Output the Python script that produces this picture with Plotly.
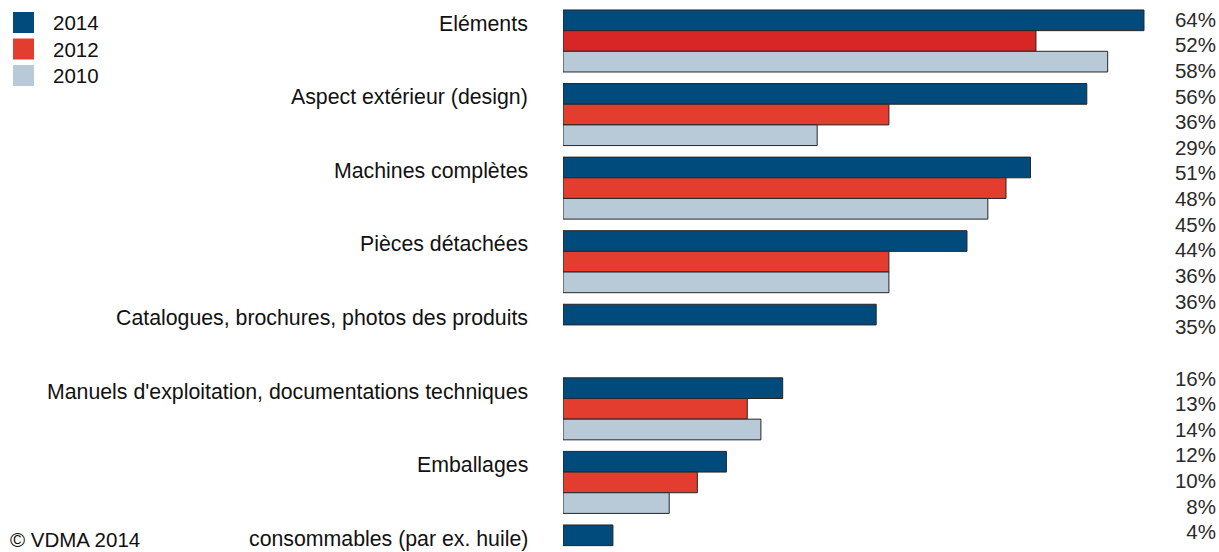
import plotly.graph_objects as go

# ---------------- data ----------------
categories = [
    "Eléments",
    "Aspect extérieur (design)",
    "Machines complètes",
    "Pièces détachées",
    "Catalogues, brochures, photos des produits",
    "Manuels d'exploitation, documentations techniques",
    "Emballages",
    "consommables (par ex. huile)",
]
series_names = ["2014", "2012", "2010"]
values_2014 = [64.0, 57.7, 51.5, 44.5, 34.5, 24.2, 18.0, 5.5]
values_2012 = [52.1, 35.9, 48.8, 35.9, None, 20.3, 14.8, None]
values_2010 = [60.0, 28.0, 46.8, 35.9, None, 21.8, 11.7, None]
pct_labels = ["64%", "52%", "58%", "56%", "36%", "29%", "51%", "48%", "45%",
              "44%", "36%", "36%", "35%", "", "16%", "13%", "14%", "12%",
              "10%", "8%", "4%"]
copyright_text = "© VDMA 2014"

# ---------------- styling / geometry ----------------
W, H = 1219, 552
X0_PX = 563            # left edge of bars
PX_PER_UNIT = 9.078
XMAX = (W - X0_PX) / PX_PER_UNIT
FONT = "Liberation Sans, Arial, Helvetica, sans-serif"
FS = 20.5
FS_CAT = 21.3
colors = ["#004A7C", "#E23D2E", "#B8C9D8"]
colors_2012 = ["#D82626"] + ["#E23D2E"] * (len(categories) - 1)
outline = dict(color="#262626", width=1)

fig = go.Figure()
all_values = [values_2014, values_2012, values_2010]
for name, vals, col in zip(series_names, all_values, [colors[0], colors_2012, colors[2]]):
    fig.add_trace(go.Bar(
        name=name, y=categories, x=vals, orientation="h",
        marker=dict(color=col, line=outline),
        showlegend=False, hoverinfo="skip",
    ))

# percent labels column on right
label_x = (1217 - X0_PX) / PX_PER_UNIT - 0.12
fig.add_trace(go.Scatter(
    x=[label_x] * len(pct_labels), y=list(range(len(pct_labels))),
    yaxis="y2", mode="text", text=pct_labels, textposition="middle left",
    textfont=dict(family=FONT, size=FS, color="#2a2a2a"),
    showlegend=False, cliponaxis=False, hoverinfo="skip",
))

annotations = []
for i, cat in enumerate(categories):
    annotations.append(dict(
        x=0, xref="x", y=i - 0.235, yref="y", xanchor="right", yanchor="middle",
        xshift=-33, text=cat, showarrow=False,
        font=dict(family=FONT, size=FS_CAT, color="#111111"),
    ))

shapes = []
for i, (name, col) in enumerate(zip(series_names, colors)):
    top = 12 + 26.5 * i
    shapes.append(dict(
        type="rect", xref="paper", yref="paper",
        x0=13 / W, x1=34 / W, y0=1 - top / H, y1=1 - (top + 21) / H,
        fillcolor=col, line=dict(width=0),
    ))
    annotations.append(dict(
        x=51 / W, xref="paper", y=1 - (top + 10.5) / H, yref="paper",
        xanchor="left", yanchor="middle", text=name, showarrow=False,
        font=dict(family=FONT, size=FS, color="#111111"),
    ))

annotations.append(dict(
    x=8 / W, xref="paper", y=1 - 539 / H, yref="paper",
    xanchor="left", yanchor="middle", text=copyright_text, showarrow=False,
    font=dict(family=FONT, size=FS, color="#111111"),
))

fig.update_layout(
    width=W, height=H,
    margin=dict(l=0, r=0, t=0, b=0),
    paper_bgcolor="white", plot_bgcolor="white",
    barmode="group", bargap=0.1573, bargroupgap=0,
    font=dict(family=FONT, size=FS, color="#111111"),
    xaxis=dict(domain=[X0_PX / W, 1], range=[0, XMAX], visible=False, fixedrange=True),
    yaxis=dict(type="category", categoryorder="array", categoryarray=categories,
               range=[6.946, -0.557], visible=False, fixedrange=True),
    yaxis2=dict(overlaying="y", range=[20.696, -0.841], visible=False, fixedrange=True),
    showlegend=False,
    annotations=annotations,
    shapes=shapes,
)

fig.write_html("out.html")
